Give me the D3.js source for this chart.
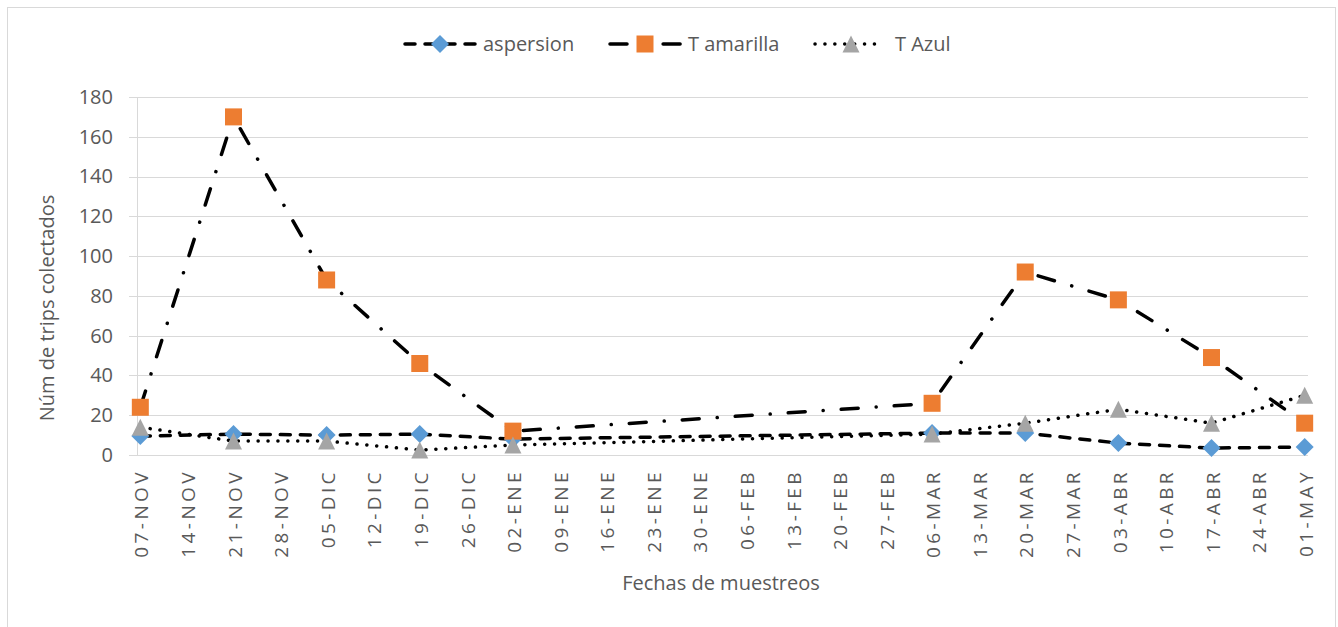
<html>
<head>
<meta charset="utf-8">
<script src="https://d3js.org/d3.v7.min.js"></script>
<style>
    body { margin: 0; background: #fff; }
    text { font-family: "Open Sans", sans-serif; fill: #595959; }
</style>
</head>
<body>
<svg id="chart" width="1338" height="627"></svg>
<script>
    // fechas de muestreo y valores
    var fechas = ["2018-11-07", "2018-11-21", "2018-12-05", "2018-12-19", "2019-01-02",
                  "2019-03-06", "2019-03-20", "2019-04-03", "2019-04-17", "2019-05-01"];
    var aspersion = [9.5, 10.5, 10, 10.5, 8, 11, 11, 6, 3.5, 4];
    var tAmarilla = [24, 170, 88, 46, 12, 26, 92, 78, 49, 16];
    var tAzul = [14, 7, 7, 2.5, 5, 10.5, 16, 23, 16, 30];
    var meses = ["ENE", "FEB", "MAR", "ABR", "MAY", "JUN", "JUL", "AGO", "SEP", "OCT", "NOV", "DIC"];
    var yTicks = [0, 20, 40, 60, 80, 100, 120, 140, 160, 180];

    var parse = d3.utcParse("%Y-%m-%d");
    var dates = fechas.map(parse);

    var svg = d3.select("#chart"),
        plotLeft = 137, plotRight = 1308, plotTop = 97, plotBottom = 455;

    svg.append("rect")
        .attr("x", 7.5).attr("y", 7.5)
        .attr("width", 1328).attr("height", 625)
        .attr("fill", "#fff").attr("stroke", "#d9d9d9");

    var x = d3.scaleUtc()
        .domain([d3.utcHour.offset(dates[0], -12), d3.utcHour.offset(dates[dates.length - 1], 12)])
        .range([plotLeft, plotRight]);
    var y = d3.scaleLinear().domain([0, 180]).range([plotBottom, plotTop]);

    // gridlines
    svg.append("g").selectAll("line")
        .data(yTicks)
        .enter().append("line")
        .attr("x1", plotLeft - 8).attr("x2", plotRight)
        .attr("y1", function (d) { return Math.round(y(d)) + 0.5; })
        .attr("y2", function (d) { return Math.round(y(d)) + 0.5; })
        .attr("stroke", "#d9d9d9").attr("stroke-width", 1);
    svg.append("line")
        .attr("x1", plotLeft + 0.5).attr("x2", plotLeft + 0.5)
        .attr("y1", plotTop).attr("y2", plotBottom + 0.5)
        .attr("stroke", "#d9d9d9");

    // y axis
    var yAxis = svg.append("g")
        .attr("transform", "translate(" + plotLeft + ",0)")
        .call(d3.axisLeft(y).tickValues(yTicks).tickSize(0).tickPadding(24));
    yAxis.select(".domain").remove();
    yAxis.selectAll("text")
        .style("font-size", "20px")
        .style("font-family", "'Open Sans', sans-serif")
        .attr("fill", "#595959");

    // x axis (weekly ticks)
    var weekTicks = d3.utcDay.range(dates[0], d3.utcDay.offset(dates[dates.length - 1], 1), 7);
    var fmt = function (d) {
        return d3.utcFormat("%d")(d) + "-" + meses[d.getUTCMonth()];
    };
    var xAxis = svg.append("g")
        .attr("transform", "translate(0," + plotBottom + ")")
        .call(d3.axisBottom(x).tickValues(weekTicks).tickFormat(fmt).tickSize(0));
    xAxis.select(".domain").remove();
    xAxis.selectAll("text")
        .attr("transform", "rotate(-90)")
        .attr("x", -14)
        .attr("y", 1)
        .attr("dy", "0.35em")
        .style("text-anchor", "end")
        .style("font-size", "19px")
        .style("letter-spacing", "3.4px")
        .style("font-family", "'Open Sans', sans-serif")
        .attr("fill", "#595959");

    // axis titles
    svg.append("text")
        .attr("transform", "translate(47,308) rotate(-90)")
        .attr("dy", "0.35em")
        .style("text-anchor", "middle")
        .style("font-size", "20px")
        .text("Núm de trips colectados");
    svg.append("text")
        .attr("x", 721).attr("y", 583)
        .attr("dy", "0.35em")
        .style("text-anchor", "middle")
        .style("font-size", "20px")
        .text("Fechas de muestreos");

    function marker(type) {
        if (type == "diamond") return "M0,-9L9,0L0,9L-9,0Z";
        if (type == "square") return "M-8.5,-8.5H8.5V8.5H-8.5Z";
        return "M0,-8.5L8.5,8.5L-8.5,8.5Z";
    }

    var series = [
        { name: "aspersion", values: aspersion, dash: "10,10", shape: "diamond", color: "#5b9bd5", lx: 405, lw: 71, mx: 440, tx: 483 },
        { name: "T amarilla", values: tAmarilla, dash: "17,18,0.1,18", shape: "square", color: "#ed7d31", lx: 610, lw: 74, mx: 645, tx: 688 },
        { name: "T Azul", values: tAzul, dash: "0.1,9.8", shape: "triangle", color: "#a5a5a5", lx: 815, lw: 66, mx: 851, tx: 895 }
    ];

    var line = d3.line()
        .x(function (d, i) { return x(dates[i]); })
        .y(function (d) { return y(d); });

    series.forEach(function (s) {
        svg.append("path")
            .attr("d", line(s.values))
            .attr("fill", "none")
            .attr("stroke", "#000")
            .attr("stroke-width", 3.5)
            .attr("stroke-linecap", "round")
            .attr("stroke-dasharray", s.dash);

        svg.append("g").selectAll("path")
            .data(s.values)
            .enter().append("path")
            .attr("d", marker(s.shape))
            .attr("transform", function (d, i) { return "translate(" + x(dates[i]) + "," + y(d) + ")"; })
            .attr("fill", s.color);

        // legend
        svg.append("line")
            .attr("x1", s.lx).attr("x2", s.lx + s.lw)
            .attr("y1", 44).attr("y2", 44)
            .attr("stroke", "#000")
            .attr("stroke-width", 3.5)
            .attr("stroke-linecap", "round")
            .attr("stroke-dasharray", s.dash);
        svg.append("path")
            .attr("d", marker(s.shape))
            .attr("transform", "translate(" + s.mx + ",44)")
            .attr("fill", s.color);
        svg.append("text")
            .attr("x", s.tx).attr("y", 44)
            .attr("dy", "0.35em")
            .style("font-size", "20px")
            .text(s.name);
    });
</script>
</body>
</html>
